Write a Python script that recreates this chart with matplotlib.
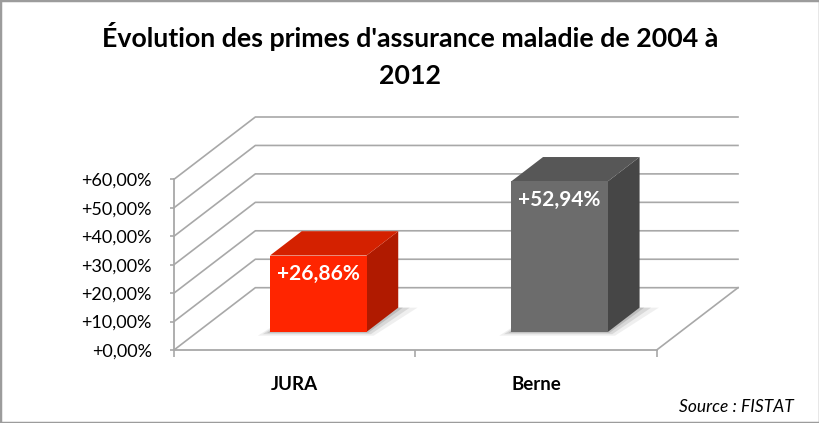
import matplotlib.pyplot as plt
from matplotlib.patches import Polygon, Rectangle

# ---- data ----
categories = ["JURA", "Berne"]
values = [26.86, 52.94]
value_labels = ["+26,86%", "+52,94%"]
yticks = [0, 10, 20, 30, 40, 50, 60]
ytick_labels = ["+0,00%", "+10,00%", "+20,00%", "+30,00%", "+40,00%", "+50,00%", "+60,00%"]

# front / top / side shades per bar
bar_colors = [
    ("#FF2500", "#D42100", "#B01A00"),
    ("#6C6C6C", "#575757", "#464646"),
]

FONT = "Lato"
GRID = "#A8A8A8"

# ---- fake 3D geometry ----
DX, DY = 0.337, 21.9    # full floor depth, in category / percent units
D0, D1 = 0.29, 0.68     # depth of bar front / back
HALF = 0.2              # half bar width


def proj(x, y, d):
    return (x + d * DX, y + d * DY)


W, H = 820, 423
fig = plt.figure(figsize=(W / 100, H / 100), dpi=100)
fig.patch.set_facecolor("white")

ax = fig.add_axes([174 / W, 1 - 350 / H, (738 - 174) / W, (350 - 117) / H])
ax.set_xlim(-0.5, len(categories) - 0.5 + DX)
ax.set_ylim(0, yticks[-1] + DY)
ax.patch.set_alpha(0)

# walls
x0, x1 = -0.5, len(categories) - 0.5
for y in yticks:
    bx, by = proj(x0, y, 1)
    ex, _ = proj(x1, y, 1)
    ax.plot([x0, bx, ex], [y, by, by], color=GRID, lw=1.2, clip_on=False, zorder=1)
# floor right edge
fx, fy = proj(x1, 0, 1)
ax.plot([x1, fx], [0, fy], color=GRID, lw=1.2, clip_on=False, zorder=1)

# bars
for i, (v, lab, cols) in enumerate(zip(values, value_labels, bar_colors)):
    l, r = i - HALF, i + HALF
    # soft shadow on floor
    for grow, a in [(0.05, 0.12), (0.03, 0.2), (0.012, 0.3)]:
        sh = [proj(l - grow * 0.6, 0, D0 - grow * 1.2), proj(r + grow, 0, D0 - grow * 1.2),
              proj(r + grow * 1.6, 0, D1), proj(l, 0, D1)]
        ax.add_patch(Polygon(sh, closed=True, fc="#808080", ec="none", alpha=a, zorder=2))
    front = [proj(l, 0, D0), proj(r, 0, D0), proj(r, v, D0), proj(l, v, D0)]
    top = [proj(l, v, D0), proj(r, v, D0), proj(r, v, D1), proj(l, v, D1)]
    side = [proj(r, 0, D0), proj(r, 0, D1), proj(r, v, D1), proj(r, v, D0)]
    ax.add_patch(Polygon(side, closed=True, fc=cols[2], ec="none", zorder=3))
    ax.add_patch(Polygon(top, closed=True, fc=cols[1], ec="none", zorder=3))
    ax.add_patch(Polygon(front, closed=True, fc=cols[0], ec="none", zorder=4))
    ax.annotate(lab, xy=proj(i, v, D0), xytext=(0, -13.5), textcoords="offset points",
                ha="center", va="center", color="white", fontsize=15,
                fontweight="bold", family=FONT, zorder=5)

# axes lines and ticks
for s in ["top", "right"]:
    ax.spines[s].set_visible(False)
ax.spines["left"].set_bounds(0, yticks[-1])
ax.spines["bottom"].set_bounds(x0, x1)
for s in ["left", "bottom"]:
    ax.spines[s].set_color(GRID)
    ax.spines[s].set_linewidth(1.3)
    ax.spines[s].set_zorder(1)

ax.set_yticks(yticks)
ax.set_yticklabels(ytick_labels, family=FONT, fontsize=13)
ax.tick_params(axis="y", length=3, color=GRID, width=1.2, pad=13)

ax.set_xticks([x0 + k for k in range(len(categories) + 1)])
ax.set_xticklabels([])
ax.set_xticks(range(len(categories)), minor=True)
ax.set_xticklabels(categories, minor=True, family=FONT, fontsize=13.5, fontweight="bold")
ax.tick_params(axis="x", which="major", length=5, color=GRID, width=1.2)
ax.tick_params(axis="x", which="minor", length=0, pad=19)

fig.text(0.5, 1 - 47 / H, "Évolution des primes d'assurance maladie de 2004 à",
         ha="center", va="baseline", fontsize=19.3, fontweight="bold", family=FONT)
fig.text(0.5, 1 - 84 / H, "2012", ha="center", va="baseline",
         fontsize=19.3, fontweight="bold", family=FONT)
fig.text(794 / W, 1 - 412 / H, "Source : FISTAT", ha="right", va="baseline",
         fontsize=12.5, style="italic", family=FONT)

fig.add_artist(Rectangle((0, 0), 1, 1, transform=fig.transFigure, fill=False,
                         ec="#9C9C9C", lw=2.5))

fig.savefig("out.png", dpi=100)
